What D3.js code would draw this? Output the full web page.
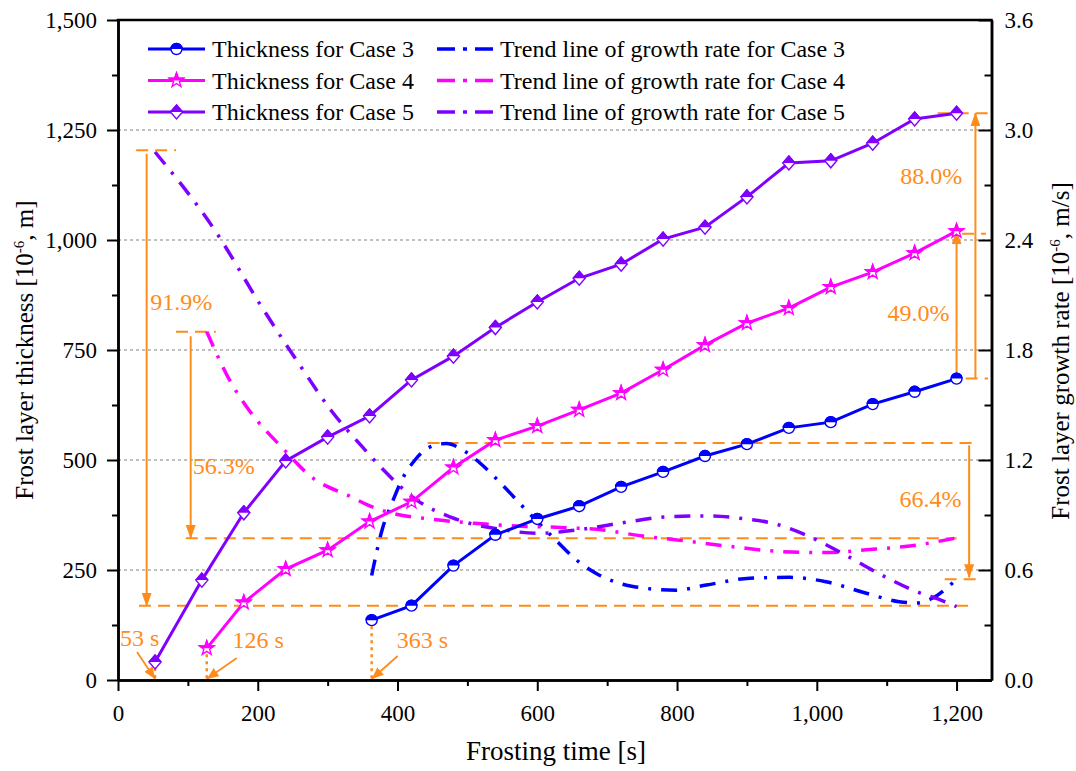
<!DOCTYPE html>
<html>
<head>
<meta charset="utf-8">
<script src="https://cdn.jsdelivr.net/npm/d3@7"></script>
<style>
  body { margin: 0; background: #fff; }
  svg { display: block; }
  text { font-family: "Liberation Serif", "Times New Roman", serif; }
</style>
</head>
<body>
<svg id="chart" width="1076" height="771"></svg>
<script>
// ---- Frost layer thickness [1e-6 m] ----
const case3Time = [363, 420, 480, 540, 600, 660, 720, 780, 840, 900, 960, 1020, 1080, 1140, 1200];
const case3Thickness = [136, 169, 260, 330, 366, 395, 439, 473, 509, 536, 573, 586, 627, 655, 685];

const case4Time = [127, 180, 240, 300, 360, 420, 480, 540, 600, 660, 720, 780, 840, 900, 960, 1020, 1080, 1140, 1200];
const case4Thickness = [72, 176, 252, 295, 360, 405, 483, 545, 577, 614, 652, 705, 761, 811, 845, 893, 927, 970, 1020];

const case5Time = [53, 120, 180, 240, 300, 360, 420, 480, 540, 600, 660, 720, 780, 840, 900, 960, 1020, 1080, 1140, 1200];
const case5Thickness = [41, 227, 380, 498, 552, 600, 682, 736, 801, 859, 913, 945, 1002, 1029, 1098, 1175, 1180, 1220, 1275, 1288];

// ---- Trend lines of growth rate [1e-6 m/s] ----
const trend3Time = [363, 378, 392, 406, 425, 446, 470, 493, 522, 546, 584, 622, 656, 685, 737, 799, 842, 904, 961, 1013, 1071, 1118, 1142, 1166, 1200];
const trend3Rate = [0.57, 0.82, 0.965, 1.09, 1.2, 1.27, 1.29, 1.255, 1.17, 1.08, 0.927, 0.78, 0.655, 0.58, 0.51, 0.49, 0.518, 0.555, 0.56, 0.536, 0.473, 0.427, 0.42, 0.447, 0.55];

const trend4Time = [127, 162, 186, 238, 276, 333, 357, 384, 446, 510, 570, 627, 694, 751, 800, 880, 951, 1014, 1071, 1133, 1200];
const trend4Rate = [1.90, 1.62, 1.48, 1.255, 1.11, 1.0, 0.955, 0.918, 0.878, 0.855, 0.84, 0.833, 0.818, 0.785, 0.764, 0.727, 0.70, 0.695, 0.71, 0.731, 0.775];

const trend5Time = [53, 140, 204, 262, 305, 350, 380, 428, 475, 503, 550, 600, 660, 718, 785, 847, 894, 937, 985, 1037, 1094, 1151, 1175, 1200];
const trend5Rate = [2.88, 2.445, 2.045, 1.707, 1.47, 1.27, 1.145, 0.98, 0.89, 0.855, 0.82, 0.80, 0.82, 0.855, 0.89, 0.895, 0.88, 0.855, 0.79, 0.69, 0.57, 0.47, 0.44, 0.40];

// ---- Axis ticks ----
const xTicks = [0, 200, 400, 600, 800, 1000, 1200];
const xMinor = [100, 300, 500, 700, 900, 1100];
const yLeftTicks = [0, 250, 500, 750, 1000, 1250, 1500];
const yLeftMinor = [125, 375, 625, 875, 1125, 1375];
const yRightTicks = [0, 0.6, 1.2, 1.8, 2.4, 3.0, 3.6];
const yRightMinor = [0.3, 0.9, 1.5, 2.1, 2.7, 3.3];

// ---- Legend ----
const thicknessLabels = ["Thickness for Case 3", "Thickness for Case 4", "Thickness for Case 5"];
const trendLabels = ["Trend line of growth rate for Case 3", "Trend line of growth rate for Case 4", "Trend line of growth rate for Case 5"];

const BLUE = "#0000FF", MAGENTA = "#FF00FF", PURPLE = "#8000FF", ORANGE = "#FF8C1A";
const FONT = "'Liberation Serif', 'Times New Roman', serif";

const svg = d3.select("#chart");
const x = d3.scaleLinear().domain([0, 1250]).range([118, 991.5]);
const yL = d3.scaleLinear().domain([0, 1500]).range([680, 20]);
const yR = d3.scaleLinear().domain([0, 3.6]).range([680, 20]);
const X0 = x(0), X1 = x(1250), Y0 = yL(0), Y1 = yL(1500);

// arrowheads and half-fill clip
const defs = svg.append("defs");
defs.append("marker").attr("id", "arrow")
  .attr("viewBox", "0 0 14 10").attr("refX", 13).attr("refY", 5)
  .attr("markerUnits", "userSpaceOnUse").attr("markerWidth", 14).attr("markerHeight", 10)
  .attr("orient", "auto")
  .append("path").attr("d", "M0,0L14,5L0,10Z").attr("fill", ORANGE);
defs.append("marker").attr("id", "arrowSmall")
  .attr("viewBox", "0 0 12 10").attr("refX", 12).attr("refY", 5)
  .attr("markerUnits", "userSpaceOnUse").attr("markerWidth", 12).attr("markerHeight", 10)
  .attr("orient", "auto")
  .append("path").attr("d", "M0,0L12,5L0,10Z").attr("fill", ORANGE);
defs.append("clipPath").attr("id", "topHalf")
  .append("rect").attr("x", -12).attr("y", -12).attr("width", 24).attr("height", 12);

// grid
svg.append("g").selectAll("line").data(yLeftTicks.filter(d => d > 0 && d < 1500)).join("line")
  .attr("x1", X0).attr("x2", X1).attr("y1", d => yL(d)).attr("y2", d => yL(d))
  .attr("stroke", "#808080").attr("stroke-width", 1).attr("stroke-dasharray", "3,3");

// ---- orange annotations (behind the data) ----
const ann = svg.append("g").attr("stroke", ORANGE).attr("fill", "none");
function hdash(t1, t2, yv, w) {
  ann.append("line").attr("x1", x(t1)).attr("x2", x(t2)).attr("y1", yv).attr("y2", yv)
    .attr("stroke-width", w || 2).attr("stroke-dasharray", "12,7");
}
function arrowV(t, yFrom, yTo, w) {
  ann.append("line").attr("x1", x(t)).attr("x2", x(t)).attr("y1", yFrom).attr("y2", yTo)
    .attr("stroke-width", w || 2).attr("marker-end", "url(#arrow)");
}
// Case 5 rate drop
hdash(26, 83, yR(2.89));
arrowV(41, yR(2.87), yR(0.405));
hdash(30, 1226, yR(0.405));
// Case 4 rate drop
hdash(83, 140, yR(1.90));
arrowV(104, yR(1.875), yR(0.775));
hdash(97, 1200, yR(0.773));
// Case 3 rate drop
hdash(443, 1228, yR(1.293));
arrowV(1218, yR(1.28), yR(0.56));
hdash(1183, 1236, yR(0.55));
// thickness rise 49.0 %
arrowV(1200, yL(685), yL(1020));
hdash(1208, 1242, yL(1014));
// thickness rise 88.0 %
arrowV(1227, yL(685), yL(1288));
hdash(1173, 1248, yL(1288));
hdash(1213, 1245, yL(685));

// onset markers
function onset(t, v) {
  ann.append("line").attr("x1", x(t)).attr("x2", x(t)).attr("y1", yL(v) + 6).attr("y2", Y0 - 1)
    .attr("stroke-width", 2.5).attr("stroke-dasharray", "3,4");
}
onset(53, 41); onset(127, 72); onset(363, 136);
function onsetArrow(t, dx, dy) {
  ann.append("line").attr("x1", x(t) + dx).attr("y1", Y0 - dy).attr("x2", x(t)).attr("y2", Y0 - 1)
    .attr("stroke-width", 1.8).attr("marker-end", "url(#arrowSmall)");
}
onsetArrow(53, -18, 28);
onsetArrow(127, 30, 22);
onsetArrow(363, 26, 24);

const annText = svg.append("g").attr("fill", ORANGE).style("font-family", FONT).style("font-size", "24px");
function label(px, py, txt, anchor) {
  annText.append("text").attr("x", px).attr("y", py).attr("text-anchor", anchor || "start")
    .attr("dominant-baseline", "central").text(txt);
}
label(x(46), yR(2.06), "91.9%");
label(x(107), yR(1.167), "56.3%");
label(x(1207), yR(0.985), "66.4%", "end");
label(x(1190), yL(834), "49.0%", "end");
label(x(1208), yL(1145), "88.0%", "end");
label(x(3), Y0 - 42, "53 s");
label(x(164), Y0 - 40, "126 s");
label(x(399), Y0 - 40, "363 s");

// ---- trend lines ----
const dashDot = "16,10,3,10";
const trendLine = d3.line().x(d => x(d[0])).y(d => yR(d[1])).curve(d3.curveMonotoneX);
const trends = [
  [d3.zip(trend3Time, trend3Rate), BLUE],
  [d3.zip(trend4Time, trend4Rate), MAGENTA],
  [d3.zip(trend5Time, trend5Rate), PURPLE]
];
trends.forEach(([pts, c]) => {
  svg.append("path").attr("d", trendLine(pts)).attr("fill", "none").attr("stroke", c)
    .attr("stroke-width", 3.5).attr("stroke-dasharray", dashDot);
});

// ---- thickness series ----
const shapes = {
  circle: "M-5.5,0A5.5,5.5 0 1,1 5.5,0A5.5,5.5 0 1,1 -5.5,0Z",
  diamond: "M0,-7L6,0L0,7L-6,0Z",
  star: (() => {
    const p = [];
    for (let i = 0; i < 10; i++) {
      const r = i % 2 ? 3 : 7.5, a = -Math.PI / 2 + i * Math.PI / 5;
      p.push([r * Math.cos(a), r * Math.sin(a)]);
    }
    return "M" + p.map(q => q[0].toFixed(2) + "," + q[1].toFixed(2)).join("L") + "Z";
  })()
};
function halfMarker(g, shape, color) {
  g.append("path").attr("d", shapes[shape]).attr("fill", "#fff").attr("stroke", color).attr("stroke-width", 1.4);
  g.append("path").attr("d", shapes[shape]).attr("fill", color).attr("stroke", color)
    .attr("stroke-width", 1.4).attr("clip-path", "url(#topHalf)");
}
const thickLine = d3.line().x(d => x(d[0])).y(d => yL(d[1]));
const series = [
  [d3.zip(case3Time, case3Thickness), BLUE, "circle"],
  [d3.zip(case4Time, case4Thickness), MAGENTA, "star"],
  [d3.zip(case5Time, case5Thickness), PURPLE, "diamond"]
];
series.forEach(([pts, c, shape]) => {
  svg.append("path").attr("d", thickLine(pts)).attr("fill", "none").attr("stroke", c).attr("stroke-width", 3);
  svg.append("g").selectAll("g").data(pts).join("g")
    .attr("transform", d => `translate(${x(d[0])},${yL(d[1])})`)
    .each(function () { halfMarker(d3.select(this), shape, c); });
});

// ---- axes ----
function styleAxis(g) {
  g.select(".domain").attr("stroke", "#000").attr("stroke-width", 2.5);
  g.selectAll(".tick line").attr("stroke", "#000").attr("stroke-width", 2);
  g.selectAll("text").style("font-family", FONT).style("font-size", "23px").attr("fill", "#000");
}
const gx = svg.append("g").attr("transform", `translate(0,${Y0})`);
gx.append("g").call(d3.axisBottom(x).tickValues(xMinor).tickSize(6).tickSizeOuter(0).tickFormat("")).call(styleAxis);
gx.append("g").call(d3.axisBottom(x).tickValues(xTicks).tickSize(11).tickSizeOuter(0).tickPadding(14).tickFormat(d3.format(","))).call(styleAxis);

const gyl = svg.append("g").attr("transform", `translate(${X0},0)`);
gyl.append("g").call(d3.axisLeft(yL).tickValues(yLeftMinor).tickSize(6).tickSizeOuter(0).tickFormat("")).call(styleAxis);
gyl.append("g").call(d3.axisLeft(yL).tickValues(yLeftTicks).tickSize(11).tickSizeOuter(0).tickPadding(10).tickFormat(d3.format(","))).call(styleAxis);

const gyr = svg.append("g").attr("transform", `translate(${X1},0)`);
gyr.append("g").call(d3.axisRight(yR).tickValues(yRightMinor).tickSizeInner(-7).tickSizeOuter(0).tickFormat("")).call(styleAxis);
gyr.append("g").call(d3.axisRight(yR).tickValues(yRightTicks).tickSizeInner(-13).tickSizeOuter(0).tickPadding(13).tickFormat(d3.format(".1f"))).call(styleAxis);

// top frame
svg.append("line").attr("x1", X0 - 1.25).attr("x2", X1 + 1.25).attr("y1", Y1).attr("y2", Y1)
  .attr("stroke", "#000").attr("stroke-width", 2.5);

// axis titles
svg.append("text").attr("x", 556).attr("y", 760).attr("text-anchor", "middle")
  .style("font-size", "27px").text("Frosting time [s]");

function rotatedTitle(px, py, main, tail) {
  const t = svg.append("text").attr("transform", `translate(${px},${py}) rotate(-90)`)
    .attr("text-anchor", "middle").style("font-size", "25px");
  t.append("tspan").text(main + " [10");
  t.append("tspan").attr("dy", -9).style("font-size", "15px").text("-6");
  t.append("tspan").attr("dy", 9).text(tail);
}
rotatedTitle(33, 350, "Frost layer thickness", ", m]");
rotatedTitle(1069, 351, "Frost layer growth rate", ", m/s]");

// ---- legend ----
const legend = svg.append("g");
const rowY = [49, 80.5, 112];
const legendColors = [BLUE, MAGENTA, PURPLE];
const legendShapes = ["circle", "star", "diamond"];
rowY.forEach((ry, i) => {
  legend.append("line").attr("x1", 148).attr("x2", 205).attr("y1", ry).attr("y2", ry)
    .attr("stroke", legendColors[i]).attr("stroke-width", 3);
  halfMarker(legend.append("g").attr("transform", `translate(176.5,${ry})`), legendShapes[i], legendColors[i]);
  legend.append("text").attr("x", 212).attr("y", ry).attr("dominant-baseline", "central")
    .style("font-size", "24px").text(thicknessLabels[i]);
  legend.append("line").attr("x1", 437).attr("x2", 493).attr("y1", ry).attr("y2", ry)
    .attr("stroke", legendColors[i]).attr("stroke-width", 3.5).attr("stroke-dasharray", "18,8,4,8");
  legend.append("text").attr("x", 500).attr("y", ry).attr("dominant-baseline", "central")
    .style("font-size", "24px").text(trendLabels[i]);
});
</script>
</body>
</html>
